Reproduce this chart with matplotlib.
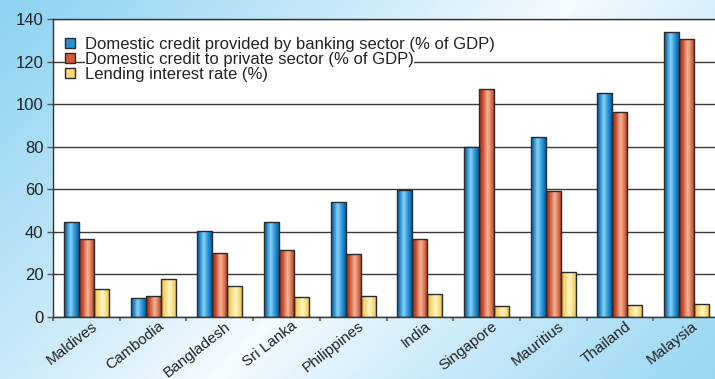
import numpy as np
import matplotlib
matplotlib.use("Agg")
import matplotlib.pyplot as plt
import matplotlib.transforms as mtransforms
from matplotlib.colors import LinearSegmentedColormap, to_rgb

# ---- data -------------------------------------------------------------
countries = ["Maldives", "Cambodia", "Bangladesh", "Sri Lanka", "Philippines",
             "India", "Singapore", "Mauritius", "Thailand", "Malaysia"]
banking_credit = [44.5, 8.8, 40.5, 44.4, 53.8, 59.8, 80.0, 84.4, 105.1, 134.1]
private_credit = [36.7, 9.7, 29.9, 31.4, 29.6, 36.8, 107.0, 59.3, 96.2, 130.5]
lending_rate = [13.1, 17.7, 14.6, 9.4, 10.0, 10.9, 5.3, 21.0, 5.5, 6.0]
series_labels = ["Domestic credit provided by banking sector (% of GDP)",
                 "Domestic credit to private sector (% of GDP)",
                 "Lending interest rate (%)"]
y_ticks = [0, 20, 40, 60, 80, 100, 120, 140]

# ---- style ------------------------------------------------------------
plt.rcParams["font.family"] = ["Liberation Sans", "DejaVu Sans"]
text_color = "#222222"

# cylindrical shading for each series (left edge -> right edge)
shade_stops = [
    [(0.0, "#0a5c9e"), (0.15, "#1580c4"), (0.42, "#8ed3f6"), (0.62, "#3ea4e0"),
     (0.85, "#0b74ba"), (1.0, "#0a5a9a")],
    [(0.0, "#9a2814"), (0.2, "#c4442a"), (0.55, "#f5b898"), (0.75, "#e27c58"),
     (1.0, "#a8381f")],
    [(0.0, "#e6b43c"), (0.2, "#f6d26c"), (0.55, "#fff7c8"), (0.8, "#f8d776"),
     (1.0, "#e6b63e")],
]
flat_colors = ["#2a8fd0", "#d0593a", "#f8d878"]
shade_maps = [LinearSegmentedColormap.from_list(f"shade{i}", s)
              for i, s in enumerate(shade_stops)]

W, H, DPI = 715, 379, 100
fig = plt.figure(figsize=(W / DPI, H / DPI), dpi=DPI)

# ---- diagonal light-blue background ----------------------------------
bg_ax = fig.add_axes([0, 0, 1, 1], zorder=-10)
yy, xx = np.mgrid[0:H, 0:W]
a = xx / W
b = yy / H
d = a + 0.5 * b - 0.8
t = np.clip(np.abs(d) / 0.8, 0, 1) ** 0.9
light = np.array(to_rgb("#f6fbfe"))
blue = np.array(to_rgb("#8cd2f2"))
bg = light[None, None, :] * (1 - t[..., None]) + blue[None, None, :] * t[..., None]
bg_ax.imshow(bg, aspect="auto", extent=[0, 1, 0, 1], origin="upper")
bg_ax.set_axis_off()

# ---- main plot --------------------------------------------------------
ax = fig.add_axes([53 / W, 62 / H, 667 / W, 298 / H])
ax.set_facecolor("white")

n = len(countries)
x = np.arange(n)
bar_w = 0.225
series = [banking_credit, private_credit, lending_rate]
offsets = [-bar_w, 0.0, bar_w]

grad = np.linspace(0, 1, 64)[None, :]
for vals, off, cmap, fc, lab in zip(series, offsets, shade_maps, flat_colors, series_labels):
    bars = ax.bar(x + off, vals, width=bar_w, color=fc, edgecolor="none",
                  zorder=2, label=lab)
    for patch in bars:
        x0, y0 = patch.get_x(), patch.get_y()
        w, h = patch.get_width(), patch.get_height()
        im = ax.imshow(grad, cmap=cmap, aspect="auto", interpolation="bicubic",
                       extent=[x0, x0 + w, y0, y0 + h], zorder=2.5)
        im.set_clip_path(patch)
    ax.bar(x + off, vals, width=bar_w, fill=False, edgecolor="#2a2a2a",
           linewidth=1.0, zorder=3)

ax.set_xlim(-0.5, n - 0.5)
ax.set_ylim(0, 140)
ax.set_aspect("auto")

# gridlines
ax.set_yticks(y_ticks)
ax.yaxis.grid(True, color="#3a3a3a", linewidth=1.0, zorder=1)
ax.set_axisbelow(True)

# spines
for side in ["left", "top", "bottom"]:
    ax.spines[side].set_color("#333333")
    ax.spines[side].set_linewidth(1.0)
ax.spines["right"].set_visible(False)

# y ticks
ax.tick_params(axis="y", direction="out", length=4, width=1, color="#555555",
               labelsize=12, labelcolor=text_color, pad=3)

# x ticks: marks at category boundaries, labels at centres
ax.set_xticks(np.arange(n + 1) - 0.5)
ax.set_xticklabels([])
ax.tick_params(axis="x", which="major", direction="out", length=3, width=1.5,
               color="#777777")
ax.set_xticks(x, minor=True)
ax.set_xticklabels(countries, minor=True)
ax.tick_params(axis="x", which="minor", length=0, labelsize=11,
               labelcolor=text_color, pad=1.5)
shift = mtransforms.ScaledTranslation(5 / DPI, 0, fig.dpi_scale_trans)
for lbl in ax.get_xticklabels(minor=True):
    lbl.set_rotation(38)
    lbl.set_ha("right")
    lbl.set_va("top")
    lbl.set_rotation_mode("anchor")
    lbl.set_transform(lbl.get_transform() + shift)

# legend
leg = ax.legend(loc="upper left", bbox_to_anchor=(-0.004, 0.99), frameon=False,
                fontsize=12, handlelength=0.6, handleheight=0.5,
                handletextpad=0.6, labelspacing=0.0, borderpad=0.4)
for txt in leg.get_texts():
    txt.set_color(text_color)
    txt.set_bbox(dict(facecolor="white", edgecolor="none", pad=0))
for hnd in leg.legend_handles:
    hnd.set_edgecolor("#2a2a2a")
    hnd.set_linewidth(1.0)

fig.savefig("out.png", dpi=DPI)
